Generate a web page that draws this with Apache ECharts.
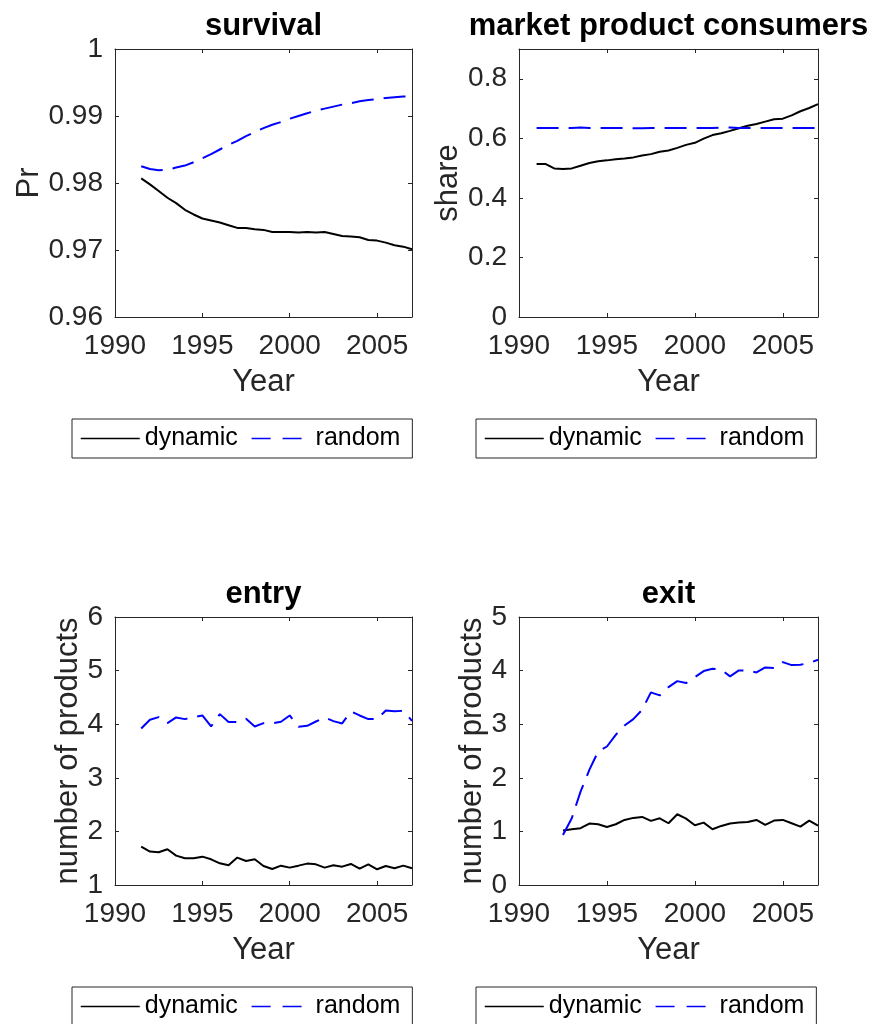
<!DOCTYPE html>
<html>
<head>
<meta charset="utf-8">
<script src="https://cdn.jsdelivr.net/npm/echarts@6/dist/echarts.min.js"></script>
<style>
  html, body { margin: 0; padding: 0; background: #fff; }
  #chart { width: 873px; height: 1024px; }
</style>
</head>
<body>
<div id="chart"></div>
<script>
// Half-year observation points
const yearsSurvival = [1991.5,1992,1992.5,1993,1993.5,1994,1994.5,1995,1995.5,1996,1996.5,1997,1997.5,1998,1998.5,1999,1999.5,2000,2000.5,2001,2001.5,2002,2002.5,2003,2003.5,2004,2004.5,2005,2005.5,2006,2006.5,2007];
const yearsShare = [1991,1991.5,1992,1992.5,1993,1993.5,1994,1994.5,1995,1995.5,1996,1996.5,1997,1997.5,1998,1998.5,1999,1999.5,2000,2000.5,2001,2001.5,2002,2002.5,2003,2003.5,2004,2004.5,2005,2005.5,2006,2006.5,2007];
const yearsEntry = yearsSurvival;
const yearsExit = [1992.5,1993,1993.5,1994,1994.5,1995,1995.5,1996,1996.5,1997,1997.5,1998,1998.5,1999,1999.5,2000,2000.5,2001,2001.5,2002,2002.5,2003,2003.5,2004,2004.5,2005,2005.5,2006,2006.5,2007];

// survival probability
const survivalDynamic = [0.9807,0.9798,0.9788,0.9778,0.9770,0.9760,0.9753,0.9747,0.9744,0.9741,0.9737,0.9733,0.9733,0.9731,0.9730,0.9727,0.9727,0.9727,0.9726,0.9727,0.9726,0.9727,0.9724,0.9721,0.9720,0.9719,0.9715,0.9714,0.9711,0.9707,0.9705,0.9701];
const survivalRandom = [0.9825,0.9821,0.9819,0.9820,0.9823,0.9826,0.9831,0.9837,0.9843,0.9850,0.9857,0.9863,0.9870,0.9876,0.9882,0.9887,0.9891,0.9896,0.9900,0.9904,0.9908,0.9911,0.9914,0.9917,0.9919,0.9922,0.9924,0.9925,0.9927,0.9928,0.9929,0.9929];

// market product consumers share
const shareDynamic = [0.514,0.514,0.499,0.497,0.499,0.508,0.517,0.523,0.526,0.530,0.532,0.536,0.542,0.547,0.555,0.559,0.568,0.578,0.585,0.599,0.611,0.617,0.625,0.634,0.642,0.648,0.656,0.664,0.666,0.677,0.691,0.702,0.715];
const shareRandom = [0.635,0.635,0.635,0.635,0.635,0.636,0.635,0.635,0.635,0.635,0.635,0.634,0.634,0.635,0.635,0.635,0.635,0.635,0.635,0.635,0.635,0.636,0.636,0.635,0.635,0.635,0.635,0.635,0.635,0.635,0.635,0.635,0.635];

// entry: number of products
const entryDynamic = [1.716,1.623,1.610,1.666,1.548,1.498,1.498,1.529,1.479,1.405,1.367,1.511,1.448,1.479,1.355,1.299,1.361,1.324,1.361,1.399,1.386,1.324,1.367,1.342,1.392,1.305,1.386,1.293,1.355,1.311,1.361,1.311];
const entryRandom = [3.920,4.082,4.132,4.019,4.126,4.095,4.130,4.163,3.958,4.188,4.039,4.039,4.101,3.958,4.019,4.014,4.045,4.163,3.951,3.970,4.050,4.126,4.057,4.014,4.238,4.163,4.095,4.095,4.257,4.240,4.250,4.063];

// exit: number of products
const exitDynamic = [1.015,1.040,1.059,1.146,1.133,1.083,1.133,1.214,1.252,1.270,1.196,1.245,1.152,1.320,1.239,1.115,1.164,1.040,1.102,1.146,1.164,1.177,1.214,1.121,1.202,1.214,1.152,1.090,1.202,1.108];
const exitRandom = [0.934,1.245,1.743,2.148,2.491,2.584,2.802,2.976,3.095,3.269,3.593,3.537,3.692,3.804,3.767,3.879,3.991,4.035,4.016,3.892,4.004,4.004,3.966,4.060,4.047,4.159,4.103,4.110,4.141,4.203];

const seriesNames = ['dynamic', 'random'];
const xTitle = 'Year';

const FONT = '"Liberation Sans", Arial, Helvetica, sans-serif';
const AXIS_COLOR = '#262626';
const DASH = [22, 10];

const panels = [
  { title: 'survival', yName: 'Pr', yMin: 0.96, yMax: 1, yStep: 0.01, nameGap: 57,
    grid: { left: 115, top: 49, width: 297, height: 268 }, legend: { left: 72, top: 419 },
    x: yearsSurvival, dyn: survivalDynamic, rnd: survivalRandom },
  { title: 'market product consumers', yName: 'share', yMin: 0, yMax: 0.9, yStep: 0.2, nameGap: 48,
    grid: { left: 519, top: 49, width: 299, height: 268 }, legend: { left: 476, top: 419 },
    x: yearsShare, dyn: shareDynamic, rnd: shareRandom },
  { title: 'entry', yName: 'number of products', yMin: 1, yMax: 6, yStep: 1, nameGap: 29,
    grid: { left: 115, top: 617, width: 297, height: 268 }, legend: { left: 72, top: 987 },
    x: yearsEntry, dyn: entryDynamic, rnd: entryRandom },
  { title: 'exit', yName: 'number of products', yMin: 0, yMax: 5, yStep: 1, nameGap: 29,
    grid: { left: 519, top: 617, width: 299, height: 268 }, legend: { left: 476, top: 987 },
    x: yearsExit, dyn: exitDynamic, rnd: exitRandom }
];

const tickStyle = { show: true, inside: true, length: 4, lineStyle: { color: AXIS_COLOR, width: 1 } };
const lineStyleAxis = { show: true, onZero: false, lineStyle: { color: AXIS_COLOR, width: 1 } };

const option = {
  backgroundColor: '#ffffff',
  animation: false,
  textStyle: { fontFamily: FONT },
  title: [], grid: [], xAxis: [], yAxis: [], legend: [], series: []
};

panels.forEach((p, i) => {
  const steps = (p.yMax - p.yMin) / p.yStep;
  const maxOnTick = Math.abs(steps - Math.round(steps)) < 1e-9;

  option.grid.push(Object.assign({ containLabel: false }, p.grid));

  option.title.push({
    text: p.title,
    left: p.grid.left + p.grid.width / 2,
    textAlign: 'center',
    top: p.grid.top - 38,
    padding: 0,
    textStyle: { fontFamily: FONT, fontSize: 31, fontWeight: 'bold', color: '#000' }
  });

  // bottom axis with labels
  option.xAxis.push({
    type: 'value', gridIndex: i, position: 'bottom',
    min: 1990, max: 2007, interval: 5,
    name: xTitle, nameLocation: 'middle', nameGap: 50,
    nameTextStyle: { fontFamily: FONT, fontSize: 31, color: AXIS_COLOR },
    axisLine: lineStyleAxis, axisTick: tickStyle,
    axisLabel: { show: true, margin: 15, fontFamily: FONT, fontSize: 28, color: AXIS_COLOR,
                 showMaxLabel: false, formatter: v => String(v) },
    splitLine: { show: false }
  });
  // top edge of the box
  option.xAxis.push({
    type: 'value', gridIndex: i, position: 'top',
    min: 1990, max: 2007, interval: 5,
    axisLine: lineStyleAxis, axisTick: tickStyle,
    axisLabel: { show: false }, splitLine: { show: false }
  });

  option.yAxis.push({
    type: 'value', gridIndex: i, position: 'left',
    min: p.yMin, max: p.yMax, interval: p.yStep,
    name: p.yName, nameLocation: 'middle', nameGap: p.nameGap,
    nameTextStyle: { fontFamily: FONT, fontSize: 31, color: AXIS_COLOR },
    axisLine: lineStyleAxis, axisTick: tickStyle,
    axisLabel: { show: true, margin: 12, fontFamily: FONT, fontSize: 28, color: AXIS_COLOR,
                 showMaxLabel: maxOnTick },
    splitLine: { show: false }
  });
  // right edge of the box
  option.yAxis.push({
    type: 'value', gridIndex: i, position: 'right',
    min: p.yMin, max: p.yMax, interval: p.yStep,
    axisLine: lineStyleAxis, axisTick: tickStyle,
    axisLabel: { show: false }, splitLine: { show: false }
  });

  option.legend.push({
    left: p.legend.left, top: p.legend.top,
    orient: 'horizontal',
    data: [
      { name: seriesNames[0], lineStyle: { color: '#000000', width: 1.5, type: 'solid' } },
      { name: seriesNames[1], lineStyle: { color: '#0000ff', width: 1.5, type: [19, 12] } }
    ],
    itemWidth: 59, itemHeight: 14, itemGap: 13,
    itemStyle: { opacity: 0, borderWidth: 0 },
    padding: [5, 12, 5, 8],
    borderColor: AXIS_COLOR, borderWidth: 1, backgroundColor: '#fff',
    selectedMode: false,
    textStyle: { fontFamily: FONT, fontSize: 25, color: '#000', lineHeight: 29 }
  });

  option.series.push({
    name: seriesNames[0], type: 'line',
    xAxisIndex: 2 * i, yAxisIndex: 2 * i,
    data: p.x.map((yr, k) => [yr, p.dyn[k]]),
    symbol: 'none', showSymbol: false, smooth: false,
    lineStyle: { color: '#000000', width: 2, type: 'solid' },
    itemStyle: { color: '#000000' }
  });
  option.series.push({
    name: seriesNames[1], type: 'line',
    xAxisIndex: 2 * i, yAxisIndex: 2 * i,
    data: p.x.map((yr, k) => [yr, p.rnd[k]]),
    symbol: 'none', showSymbol: false, smooth: false,
    lineStyle: { color: '#0000ff', width: 2, type: DASH },
    itemStyle: { color: '#0000ff' }
  });
});

const chart = echarts.init(document.getElementById('chart'), null, { renderer: 'canvas' });
chart.setOption(option);
</script>
</body>
</html>
